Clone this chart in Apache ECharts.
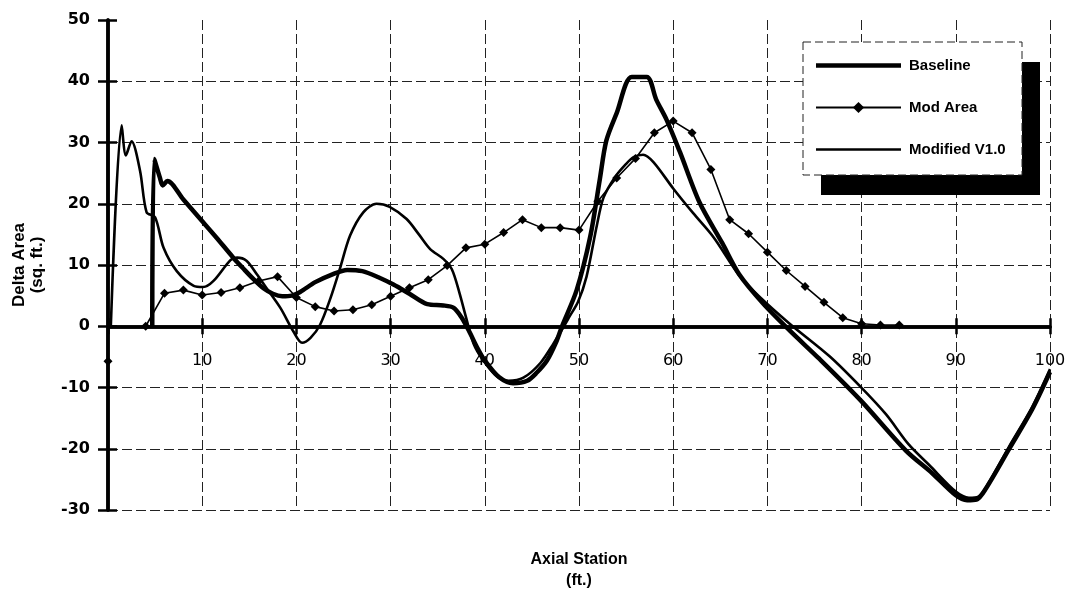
<!DOCTYPE html>
<html>
<head>
<meta charset="utf-8">
<script src="https://cdn.jsdelivr.net/npm/echarts@6/dist/echarts.min.js"></script>
<style>
  html, body { margin: 0; padding: 0; background: #fff; }
  #chart { width: 1069px; height: 592px; }
</style>
</head>
<body>
<div id="chart"></div>
<script>
// Axis ranges (ft. along the body, sq. ft. of area change)
const xRange = { min: 0, max: 100, step: 10 };
const yRange = { min: -30, max: 50, step: 10 };

// Baseline area distribution
const baselineX = [4.7, 4.9, 5.5, 5.8, 6.3, 8, 9.8, 11.5, 13.3, 14.5, 15.5, 16.5, 17.5, 18.5, 19.5, 20.4, 22, 23.7, 25.4, 27, 28.7, 30.3, 32, 33.9, 35.6, 36.7, 37.5, 38.3, 39.2, 40, 41.5, 43, 44.5, 45.5, 46.6, 47.6, 48.2, 49.75, 51.2, 52.2, 52.9, 54, 55.6, 57.2, 58.2, 59.3, 60.7, 62.8, 65.2, 67, 69.5, 72.3, 75.5, 79.9, 84.7, 87.5, 90, 91.2, 92.2, 93.2, 95.6, 98.1, 100];
const baselineY = [0, 27.3, 24.3, 23.0, 23.7, 20.7, 17.5, 14.5, 11.2, 9.2, 7.6, 6.2, 5.3, 4.9, 5.0, 5.6, 7.2, 8.4, 9.2, 9.0, 8.0, 6.8, 5.3, 3.6, 3.4, 3.0, 1.5, -0.7, -3.5, -5.6, -8.3, -9.3, -8.9, -7.6, -5.6, -2.5, 0, 5.9, 14.7, 23.9, 30.3, 34.8, 40.7, 40.7, 37.0, 33.7, 28.5, 20.2, 13.6, 8.5, 3.8, -0.6, -5.3, -12.1, -20.3, -24.0, -27.6, -28.4, -28.3, -26.5, -20.2, -13.6, -7.5];

// Mod Area stations (every 2 ft.), null leaves a gap
const modAreaX = [0, 2, 4, 6, 8, 10, 12, 14, 16, 18, 20, 22, 24, 26, 28, 30, 32, 34, 36, 38, 40, 42, 44, 46, 48, 50, 52, 54, 56, 58, 60, 62, 64, 66, 68, 70, 72, 74, 76, 78, 80, 82, 84];
const modAreaY = [-5.7, null, 0, 5.4, 5.9, 5.1, 5.5, 6.3, 7.4, 8.1, 4.7, 3.2, 2.5, 2.7, 3.5, 4.9, 6.3, 7.6, 9.9, 12.8, 13.4, 15.3, 17.4, 16.1, 16.1, 15.7, 20.4, 24.2, 27.4, 31.6, 33.5, 31.6, 25.6, 17.4, 15.1, 12.1, 9.1, 6.5, 3.9, 1.4, 0.4, 0.2, 0.2];

// Modified V1.0 area distribution
const modifiedX = [0.3, 1.45, 1.9, 2.5, 3.4, 4.1, 5.0, 5.9, 7.3, 9.1, 10.1, 11.2, 13.0, 13.7, 14.7, 15.8, 16.8, 18.3, 19.7, 20.6, 21.5, 22.5, 23.6, 24.6, 25.7, 27.1, 28.5, 29.9, 31.7, 33.0, 34.2, 35.6, 36.5, 37.3, 38.0, 38.8, 39.8, 41.3, 42.5, 44.1, 45.9, 47.3, 48.4, 49.0, 49.9, 50.8, 51.9, 52.6, 53.8, 55.0, 55.8, 56.8, 57.9, 60.0, 62.1, 64.3, 67.0, 69.1, 72.3, 76.6, 79.9, 82.6, 85.0, 87.2, 90.0, 91.4, 92.4, 93.4, 95.6, 98.1, 100];
const modifiedY = [0, 32.8, 27.9, 30.2, 25.4, 18.6, 17.8, 12.8, 9.0, 6.6, 6.4, 7.4, 10.8, 11.2, 10.7, 8.5, 6.3, 3.0, -0.9, -2.7, -1.9, 0.2, 4.5, 9.3, 14.8, 18.6, 20.0, 19.5, 17.5, 15.0, 12.6, 11.0, 9.3, 5.5, 1.5, -2.8, -5.5, -8.2, -8.9, -8.4, -6.0, -2.8, 0, 1.6, 4.0, 8.1, 16.5, 21.0, 24.3, 26.5, 27.6, 28.0, 26.8, 22.5, 18.5, 14.5, 8.3, 4.9, 0.5, -4.9, -9.9, -14.4, -19.3, -22.7, -27.0, -28.0, -27.8, -25.8, -19.8, -13.2, -7.0];

const pairs = (xs, ys) => xs.map((x, i) => [x, ys[i] === null ? '-' : ys[i]]);

const INK = '#000';
const gridDash = [10, 4];
const labelFont = 'DejaVu Sans';
const textFont = 'Liberation Sans';

// Legend frame with its offset drop shadow
const legendBox = { x: 803, y: 42, w: 219, h: 133, shadowDx: 18, shadowDy: 20 };

const chart = echarts.init(document.getElementById('chart'), null, { renderer: 'canvas' });

chart.setOption({
  backgroundColor: '#fff',
  animation: false,
  grid: { left: 108, top: 20, width: 942, height: 490, containLabel: false, outerBoundsMode: 'none' },
  graphic: [
    {
      type: 'rect', z: 90, silent: true,
      shape: { x: legendBox.x + legendBox.shadowDx, y: legendBox.y + legendBox.shadowDy, width: legendBox.w, height: legendBox.h },
      style: { fill: INK }
    },
    {
      type: 'rect', z: 91, silent: true,
      shape: { x: legendBox.x, y: legendBox.y, width: legendBox.w, height: legendBox.h },
      style: { fill: '#fff', stroke: '#222', lineWidth: 1, lineDash: [8, 4] }
    }
  ],
  legend: {
    orient: 'vertical',
    left: 803,
    top: 42,
    z: 100,
    padding: [16, 22, 21, 12],
    itemGap: 27,
    itemWidth: 85,
    itemHeight: 14,
    textStyle: { color: INK, fontFamily: textFont, fontWeight: 'bold', fontSize: 15, padding: [0, 0, 0, 3] },
    data: [
      { name: 'Baseline', icon: 'path://M0,0L85,0L85,4.5L0,4.5Z' },
      { name: 'Mod Area' },
      { name: 'Modified V1.0', icon: 'path://M0,0L85,0L85,2.6L0,2.6Z' }
    ]
  },
  xAxis: [
    {
      type: 'value', position: 'bottom',
      min: xRange.min, max: xRange.max, interval: xRange.step,
      name: 'Axial Station\n(ft.)',
      nameLocation: 'middle',
      nameGap: 39,
      nameTextStyle: { color: INK, fontFamily: textFont, fontWeight: 'bold', fontSize: 16, lineHeight: 21 },
      axisLine: { onZero: true, lineStyle: { color: INK, width: 3.5 } },
      axisTick: { show: true, length: 8, lineStyle: { color: INK, width: 2.5 } },
      axisLabel: {
        margin: -157, color: INK, fontFamily: labelFont, fontSize: 16,
        formatter: v => (v === 0 ? '' : String(v))
      },
      splitLine: { show: true, showMinLine: false, lineStyle: { color: '#222', width: 1, type: gridDash } }
    },
    {
      type: 'value', position: 'top',
      min: xRange.min, max: xRange.max, interval: xRange.step,
      axisLine: { onZero: true, lineStyle: { color: INK, width: 3.5 } },
      axisTick: { show: true, length: 8, lineStyle: { color: INK, width: 2.5 } },
      axisLabel: { show: false },
      splitLine: { show: false }
    }
  ],
  yAxis: [
    {
      type: 'value', position: 'left',
      min: yRange.min, max: yRange.max, interval: yRange.step,
      name: 'Delta Area\n(sq. ft.)',
      nameLocation: 'middle',
      nameRotate: 90,
      nameGap: 62,
      nameTextStyle: { color: INK, fontFamily: textFont, fontWeight: 'bold', fontSize: 17, lineHeight: 18 },
      axisLine: { show: true, onZero: true, lineStyle: { color: INK, width: 3.5 } },
      axisTick: { show: true, length: 10, lineStyle: { color: INK, width: 2.5 } },
      axisLabel: { margin: 18, color: INK, fontFamily: labelFont, fontWeight: 'bold', fontSize: 16 },
      splitLine: { show: true, showMaxLine: false, lineStyle: { color: '#222', width: 1, type: gridDash } }
    },
    {
      type: 'value', position: 'right',
      min: yRange.min, max: yRange.max, interval: yRange.step,
      axisLine: { show: true, onZero: true, lineStyle: { color: INK, width: 3.5 } },
      axisTick: { show: true, length: 9, lineStyle: { color: INK, width: 2.5 } },
      axisLabel: { show: false },
      splitLine: { show: false }
    }
  ],
  series: [
    {
      name: 'Baseline',
      type: 'line',
      xAxisIndex: 0, yAxisIndex: 0,
      data: pairs(baselineX, baselineY),
      symbol: 'none',
      smooth: 0.3,
      lineStyle: { color: INK, width: 4.5, join: 'round' },
      itemStyle: { color: INK },
      z: 4
    },
    {
      name: 'Mod Area',
      type: 'line',
      xAxisIndex: 0, yAxisIndex: 0,
      data: pairs(modAreaX, modAreaY),
      symbol: 'diamond',
      symbolSize: 9,
      showSymbol: true,
      connectNulls: false,
      lineStyle: { color: INK, width: 1.6 },
      itemStyle: { color: INK, borderWidth: 0 },
      z: 3
    },
    {
      name: 'Modified V1.0',
      type: 'line',
      xAxisIndex: 0, yAxisIndex: 0,
      data: pairs(modifiedX, modifiedY),
      symbol: 'none',
      smooth: 0.3,
      lineStyle: { color: INK, width: 2.6, join: 'round' },
      itemStyle: { color: INK },
      z: 5
    }
  ]
});
</script>
</body>
</html>
